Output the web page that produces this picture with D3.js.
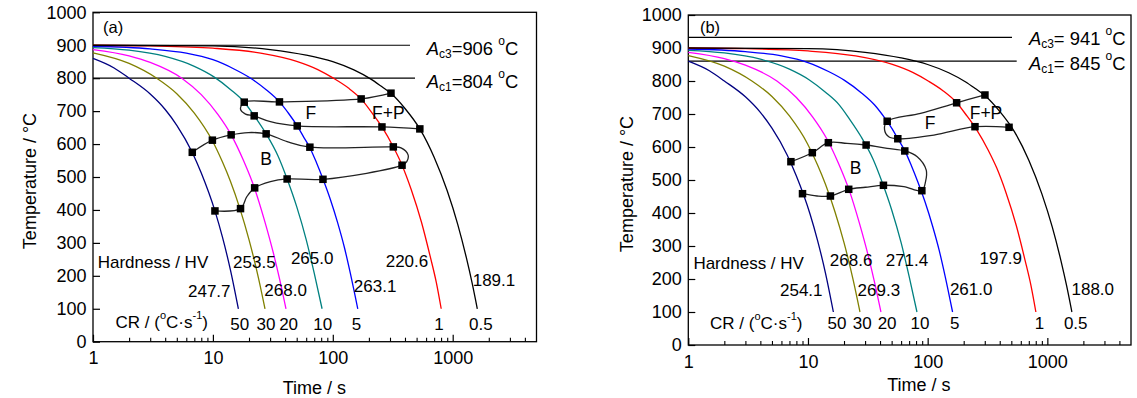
<!DOCTYPE html>
<html><head><meta charset="utf-8">
<script src="https://cdn.jsdelivr.net/npm/d3@7"></script>
<style>
body{margin:0;background:#fff}
svg{display:block}
text{font-family:"Liberation Sans",Arial,sans-serif;fill:#000}
</style>
</head><body>
<svg id="c" width="1137" height="398"></svg>
<script>
// ---------------- data ----------------
const timeDomain = [1, 5000];
const tempDomain = [0, 1000];
const xTickValues = [1, 10, 100, 1000];
const xTickLabels = ["1", "10", "100", "1000"];
const xMinorTicks = [2,3,4,5,6,7,8,9,20,30,40,50,60,70,80,90,200,300,400,500,600,700,800,900,2000,3000,4000];
const yTickValues = [0,100,200,300,400,500,600,700,800,900,1000];
const yTickLabels = ["0","100","200","300","400","500","600","700","800","900","1000"];

const coolingRates = ["50", "30", "20", "10", "5", "1", "0.5"];
// cooling curves [time s, temperature °C]
const cr50 = [[1,860],[1.5,831],[2,800],[3,752],[4,705],[5,657],[6.7,576],[8,512],[10.4,397],[12,318],[14,218],[16.3,100]];
const cr30 = [[1,877],[2,845],[3.4,800],[5,753],[7,694],[9.9,610],[12,546],[14,487],[16.8,404],[20,310],[24,193],[27.2,100]];
const cr20 = [[1,887],[2,868],[3,848],[5.5,800],[8,750],[11,690],[14.2,628],[18,550],[22.2,467],[27,367],[32,268],[36,190],[40.7,100]];
const cr10 = [[1,893],[2,885],[4,866],[7,836],[10.2,804],[14,766],[18.3,727],[22.1,686],[27.8,631],[35,563],[41.6,494],[50,410],[60,310],[70,208],[81.4,100]];
const cr5 = [[1,897],[3,889],[6,876],[10,856],[15,828],[20.2,802],[28,764],[35.9,728],[43,692],[50.5,655],[57,622],[64.4,589],[73,544],[82.8,494],[95,434],[110,360],[125,286],[140,208],[161.5,100]];
const cr1 = [[1,900],[3,898],[10,891],[25,876],[50,851],[75,826],[101,800],[135,770],[172,737],[210,697],[257,652],[320,591],[378,536],[450,463],[550,362],[650,258],[730,180],[802,100]];
const cr05 = [[1,900],[10,898],[30,887],[60,870],[100,850],[150,825],[208,797],[250,777],[305,754],[400,708],[532,646],[700,560],[900,458],[1100,357],[1300,255],[1450,179],[1604,100]];
const coolingCurves = [cr50, cr30, cr20, cr10, cr5, cr1, cr05];

// hardness (HV) per cooling rate
const hardnessA = ["247.7", "253.5", "268.0", "265.0", "263.1", "220.6", "189.1"];
const hardnessB = ["254.1", "268.6", "269.3", "271.4", "261.0", "197.9", "188.0"];

// critical temperatures
const acNames = ["c3", "c1"];
const acLineTempsA = [900, 800];
const acValuesA = ["906", "804"];
const acLineTempsB = [932, 860];
const acValuesB = ["941", "845"];

// transformation boundaries [time, temp, measuredPoint]
const ferriteA = [[305.7,754.5,1],[172.4,737,1],[35.9,728,1],[18.26,727.2,1],[17.0,706,0],[18.7,691,0],[22.1,685.6,1],[30.2,668,0],[50.5,655,1],[257,652,1],[532,646,1]];
const bainiteA = [[6.73,575,1],[9.9,611.8,1],[14.2,628,1],[19.8,635,0],[27.8,631,1],[41.6,607.5,0],[64.4,590.5,1],[319.7,591.4,1],[371,588.4,0],[424.5,567,0],[414,546.8,0],[378,535.8,1],[82.8,493,1],[41.6,494,1],[30.2,486,0],[22.3,467,1],[19.2,440.5,0],[17.0,404,1],[10.4,397,1]];
const ferriteB = [[301,757.6,1],[174.6,734,1],[87.2,702,0],[45.9,678,1],[43.6,653.6,0],[47.3,631,0],[56.3,625,1],[112.7,636,0],[248.5,661.5,1],[478.6,659.7,1]];
const bainiteB = [[7.2,555.5,1],[10.87,582.7,1],[14.8,613,1],[21.2,611,0],[30.6,606,1],[45.9,596,0],[64.4,588,1],[81.8,570.6,0],[97.3,530,0],[96,495,0],[89.4,467.6,1],[63.2,479.7,0],[42.7,484,1],[30.2,478,0],[21.9,471.8,1],[15.4,451.5,1],[11.9,451.5,0],[9.0,458.5,1]];

const regionNames = ["F", "F+P", "B"];
const panelNames = ["(a)", "(b)"];

// ---------------- styles / layout ----------------
const curveColors = ["#000080", "#808000", "#ff00ff", "#008080", "#0000ff", "#ff0000", "#000000"];

const panels = [
  { name: panelNames[0], left: 93, right: 536.5, top: 12.3, bottom: 341.7,
    hardness: hardnessA, acTemps: acLineTempsA, acValues: acValuesA, acSep: "=",
    acLineEnd: [410, 415], acTextX: 426.7, acTextY: [48.3, 81],
    ferrite: ferriteA, bainite: bainiteA,
    regionPos: [[310.8, 113.3], [388.3, 113.3], [266, 159]],
    namePos: [113.2, 26.7],
    hardPos: [[188, 291.7], [233.1, 262.3], [264.3, 290], [290.9, 258.3], [353.8, 286], [385.7, 261.7], [472.7, 280]],
    hardTitle: [97.7, 262.3],
    crPos: [239.8, 266, 288.6, 322.7, 356.4, 439, 480.8], crY: 324, crTitle: [115.5, 321.7],
    xTitle: [314.4, 388.3], yTitle: [30, 181] },
  { name: panelNames[1], left: 688.3, right: 1131, top: 15, bottom: 345,
    hardness: hardnessB, acTemps: acLineTempsB, acValues: acValuesB, acSep: "= ",
    acLineEnd: [1012, 1016.7], acTextX: 1028.9, acTextY: [38.3, 63.3],
    ferrite: ferriteB, bainite: bainiteB,
    regionPos: [[930, 123.3], [986, 113.3], [855.7, 168.3]],
    namePos: [710, 26.7],
    hardPos: [[780, 290], [829.8, 260.7], [857.6, 290], [885.7, 260.7], [949.9, 289], [979.5, 258.3], [1071.5, 289]],
    hardTitle: [693.4, 263.3],
    crPos: [837, 862.2, 887.1, 920, 954.8, 1039.6, 1075.7], crY: 323.3, crTitle: [710, 323.3],
    xTitle: [918.8, 385], yTitle: [627, 184] }
];

const svg = d3.select("#c");
const annFont = 17, tickFont = 18;

panels.forEach(p => {
  const x = d3.scaleLog().domain(timeDomain).range([p.left, p.right]);
  const y = d3.scaleLinear().domain(tempDomain).range([p.bottom, p.top]);
  const g = svg.append("g");

  // axes
  const xAx = g.append("g").attr("transform", `translate(0,${p.bottom})`)
    .call(d3.axisBottom(x).tickValues(xTickValues).tickFormat((d, i) => xTickLabels[i]).tickSize(-7).tickPadding(10));
  xAx.select(".domain").remove();
  xAx.selectAll("text").style("font-size", tickFont + "px").attr("fill", "#000");
  xAx.selectAll("line").attr("stroke", "#000").attr("stroke-width", 1.2);
  const xMin = g.append("g").attr("transform", `translate(0,${p.bottom})`)
    .call(d3.axisBottom(x).tickValues(xMinorTicks).tickFormat("").tickSize(-4));
  xMin.select(".domain").remove();
  xMin.selectAll("line").attr("stroke", "#000").attr("stroke-width", 1.1);

  const yAx = g.append("g").attr("transform", `translate(${p.left},0)`)
    .call(d3.axisLeft(y).tickValues(yTickValues).tickFormat((d, i) => yTickLabels[i]).tickSize(-7).tickPadding(6.5));
  yAx.select(".domain").remove();
  yAx.selectAll("text").style("font-size", tickFont + "px").attr("fill", "#000");
  yAx.selectAll("line").attr("stroke", "#000").attr("stroke-width", 1.2);

  g.append("rect").attr("x", p.left).attr("y", p.top)
    .attr("width", p.right - p.left).attr("height", p.bottom - p.top)
    .attr("fill", "none").attr("stroke", "#000").attr("stroke-width", 1.3);

  // axis titles
  g.append("text").attr("x", p.xTitle[0]).attr("y", p.xTitle[1])
    .attr("text-anchor", "middle").attr("dominant-baseline", "central")
    .style("font-size", "18px").text("Time / s");
  g.append("text").attr("transform", `translate(${p.yTitle[0]},${p.yTitle[1]}) rotate(-90)`)
    .attr("text-anchor", "middle").attr("dominant-baseline", "central")
    .style("font-size", "18px").text("Temperature / °C");

  // Ac lines
  p.acTemps.forEach((T, i) => {
    g.append("line").attr("x1", p.left).attr("x2", p.acLineEnd[i])
      .attr("y1", y(T)).attr("y2", y(T)).attr("stroke", "#000").attr("stroke-width", 1.2);
    const t = g.append("text").attr("x", p.acTextX).attr("y", p.acTextY[i])
      .attr("dominant-baseline", "central").style("font-size", "18.4px");
    t.append("tspan").style("font-style", "italic").text("A");
    t.append("tspan").attr("dy", 6).style("font-size", "12px").text(acNames[i]);
    t.append("tspan").attr("dy", -6).text(p.acSep + p.acValues[i] + " ");
    t.append("tspan").attr("dy", -7).style("font-size", "12px").text("o");
    t.append("tspan").attr("dy", 7).text("C");
  });

  // cooling curves
  const line = d3.line().x(d => x(d[0])).y(d => y(d[1])).curve(d3.curveMonotoneX);
  coolingCurves.forEach((c, i) => {
    g.append("path").attr("d", line(c)).attr("fill", "none")
      .attr("stroke", curveColors[i]).attr("stroke-width", 1.3);
  });

  // transformation boundaries
  const tline = d3.line().x(d => x(d[0])).y(d => y(d[1])).curve(d3.curveCatmullRom.alpha(0.5));
  [p.ferrite, p.bainite].forEach(arr => {
    g.append("path").attr("d", tline(arr)).attr("fill", "none")
      .attr("stroke", "#222").attr("stroke-width", 1.3);
    const s = 7.5;
    g.selectAll(null).data(arr.filter(d => d[2] === 1)).enter().append("rect")
      .attr("x", d => x(d[0]) - s / 2).attr("y", d => y(d[1]) - s / 2)
      .attr("width", s).attr("height", s).attr("fill", "#000");
  });

  // region labels
  regionNames.forEach((n, i) => {
    g.append("text").attr("x", p.regionPos[i][0]).attr("y", p.regionPos[i][1])
      .attr("text-anchor", "middle").attr("dominant-baseline", "central")
      .style("font-size", "17.5px").text(n);
  });
  g.append("text").attr("x", p.namePos[0]).attr("y", p.namePos[1])
    .attr("text-anchor", "middle").attr("dominant-baseline", "central")
    .style("font-size", "16.5px").text(p.name);

  // hardness labels
  g.append("text").attr("x", p.hardTitle[0]).attr("y", p.hardTitle[1])
    .attr("dominant-baseline", "central").style("font-size", annFont + "px").text("Hardness / HV");
  p.hardness.forEach((h, i) => {
    g.append("text").attr("x", p.hardPos[i][0]).attr("y", p.hardPos[i][1])
      .attr("dominant-baseline", "central").style("font-size", annFont + "px").text(h);
  });

  // cooling rate labels
  const cr = g.append("text").attr("x", p.crTitle[0]).attr("y", p.crTitle[1])
    .attr("dominant-baseline", "central").style("font-size", annFont + "px");
  cr.append("tspan").text("CR / (");
  cr.append("tspan").attr("dy", -7).style("font-size", "11px").text("o");
  cr.append("tspan").attr("dy", 7).text("C·s");
  cr.append("tspan").attr("dy", -7).style("font-size", "11px").text("-1");
  cr.append("tspan").attr("dy", 7).text(")");
  coolingRates.forEach((r, i) => {
    g.append("text").attr("x", p.crPos[i]).attr("y", p.crY)
      .attr("text-anchor", "middle").attr("dominant-baseline", "central")
      .style("font-size", annFont + "px").text(r);
  });
});
</script>
</body></html>
